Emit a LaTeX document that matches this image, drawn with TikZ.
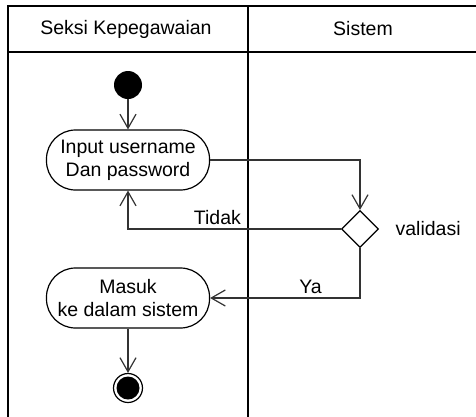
\documentclass[tikz,border=0pt]{standalone}
\usepackage{fontspec}
\setmainfont{Liberation Sans}
\usepackage{tikz}
\usetikzlibrary{arrows.meta,positioning,shapes.geometric}

\begin{document}
\begin{tikzpicture}[x=1pt,y=-1pt,font=\fontsize{19.5}{23}\selectfont]
  % `activity' is used for the rounded action boxes.
  % `decision' is the diamond, `start' and `stop' the two end dots.
  % `flow' is used for all connectors, `lane' for the swimlane frame.
  \tikzstyle{activity} = [draw,line width=1.2pt,rounded corners=29pt,minimum width=163pt,minimum height=60pt,align=center,inner sep=0pt]
  \tikzstyle{decision} = [draw,line width=1.2pt,shape=diamond,minimum width=37pt,minimum height=37pt,inner sep=0pt]
  \tikzstyle{start} = [fill,shape=circle,minimum size=28pt,inner sep=0pt]
  \tikzstyle{stop} = [draw,line width=1.2pt,shape=circle,minimum size=29pt,inner sep=0pt,
    path picture={\fill (path picture bounding box.center) circle (11.5pt);}]
  \tikzstyle{flow} = [line width=1.2pt,draw=black!80,-{Straight Barb[length=14pt,width=16pt]}]
  \tikzstyle{lane} = [line width=2pt]
  %
  \useasboundingbox (0,0) rectangle (476,416);
  \clip (0,0) rectangle (476,416);
  % Swimlane frame.
  \draw[lane] (8,430) -- (8,6) -- (490,6);
  \draw[lane] (8,52) -- (490,52);
  \draw[lane] (248,6) -- (248,430);
  \node (seksi) at (126,29) {Seksi Kepegawaian};
  \node (sistem) at (363,29) {Sistem};
  % Nodes.
  \node[start] (start) at (128,85) {};
  \node[activity] (input) at (128,160) {Input username\\Dan password};
  \node[decision] (valid) at (360,229) {};
  \node[right=13pt of valid] (validasi) {validasi};
  \node[activity] (masuk) at (128,298) {Masuk\\ke dalam sistem};
  \node[stop] (end) at (128,388) {};
  % Connectors.
  \draw[flow] (start) -- (input);
  \draw[flow] (input.east) -| (valid.north);
  \draw[flow] (valid.west) -| node[pos=0.29,above] (tidak) {Tidak} (input.south);
  \draw[flow] (valid.south) |- node[pos=0.665,above] (ya) {Ya} (masuk.east);
  \draw[flow] (masuk) -- (end);
\end{tikzpicture}
\end{document}
